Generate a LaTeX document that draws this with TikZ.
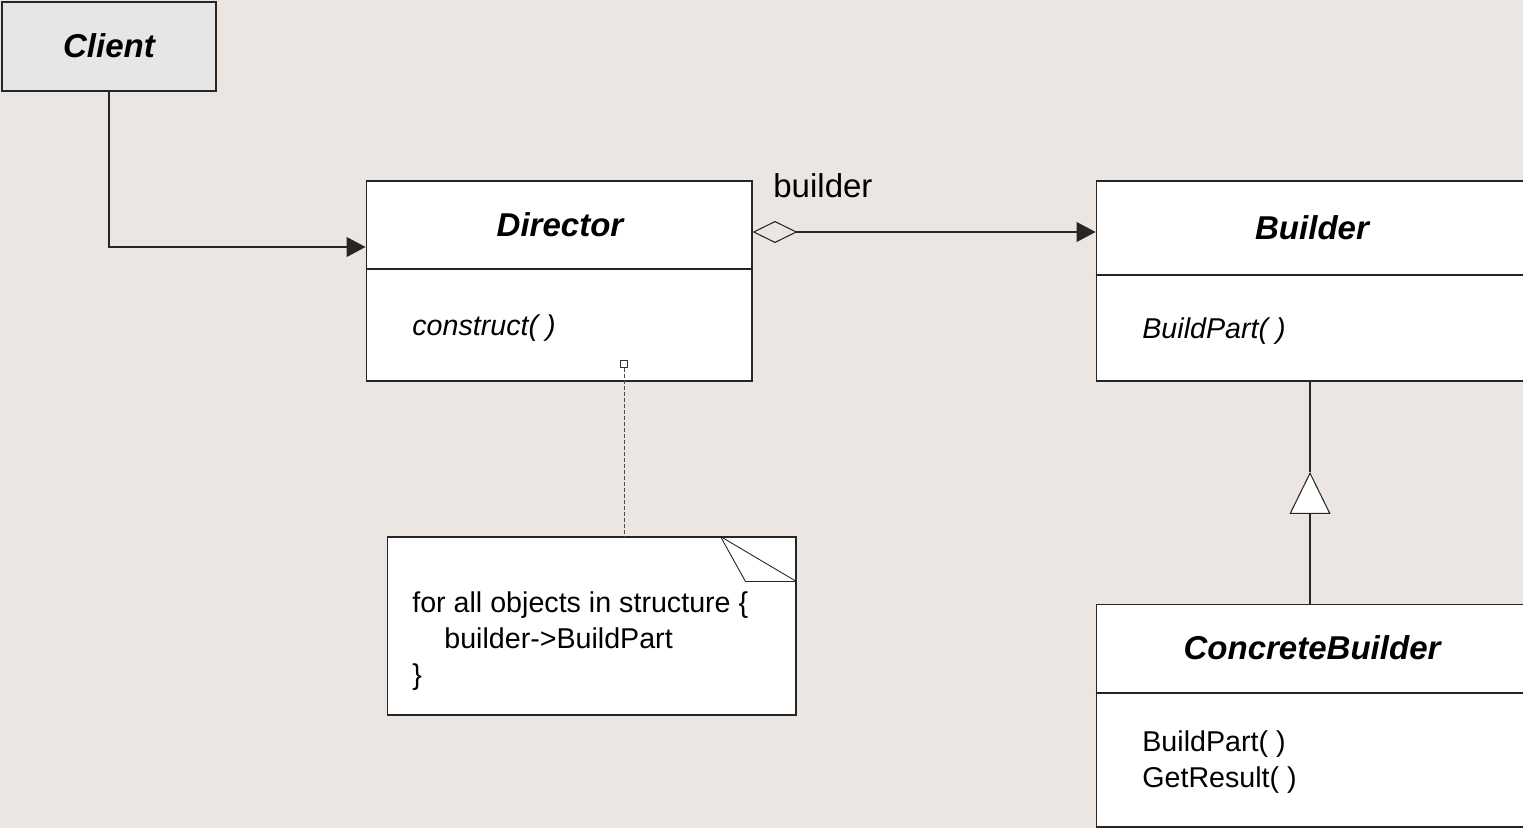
\documentclass[tikz,border=0pt]{standalone}
\usepackage{fontspec}
\setmainfont{Liberation Sans}
\usetikzlibrary{arrows.meta,calc,positioning}
\definecolor{canvas}{RGB}{235,230,226}
\definecolor{clientgray}{RGB}{230,230,230}
\def\bigtext{\fontsize{18.8}{22}\selectfont}
\def\smalltext{\fontsize{16.3}{20.3}\selectfont}
\tikzset{
	classbox/.style={draw=black!85, fill=white, line width=0.6pt, inner sep=0pt},
	classname/.style={font=\bigtext\bfseries\itshape, inner sep=0pt},
	member/.style={font=\smalltext, anchor=west, inner sep=0pt, align=left},
	link/.style={draw=black!85, line width=0.6pt},
	navigable/.style={link, -{Triangle[length=0.38cm,width=0.4cm]}},
	aggregation/.style={link, {Diamond[open,length=0.9cm,width=0.44cm]}-{Triangle[length=0.38cm,width=0.4cm]}},
	inherits/.style={link, -{Triangle[open,fill=white,length=0.84cm,width=0.82cm]}},
	anchorsq/.style={draw=black!80, fill=white, line width=0.5pt, minimum size=0.13cm, inner sep=0pt},
	notelink/.style={draw=black!70, line width=0.5pt, dash pattern=on 0.08cm off 0.04cm}
}

\begin{document}
\begin{tikzpicture}[x=0.02cm, y=-0.02cm]
		%%%%% START %%%%%
		
		\fill[canvas] (0, 0) rectangle (1523, 828);
		\useasboundingbox (0, 0) rectangle (1523, 828);
		\clip (0, 0) rectangle (1523, 828);
		
		% client
		\node[classbox, fill=clientgray, minimum width=4.28cm, minimum height=1.78cm] (client) at (109, 46.5) {};
		\node[classname] (clientname) at (109, 46) {Client};
		
		% director
		\node[classbox, minimum width=7.72cm, minimum height=4cm] (director) at (559, 281) {};
		\draw[link] (director.west |- 0, 269) -- (director.east |- 0, 269);
		\node[classname] (directorname) at (560, 225) {Director};
		\node[member, font=\smalltext\itshape] (construct) at (412, 328) {construct( )};
		\node[anchorsq] (sq) at (624, 364) {};
		
		% builder
		\node[classbox, minimum width=8.64cm, minimum height=4cm] (builder) at (1312, 281) {};
		\draw[link] (builder.west |- 0, 275) -- (builder.east |- 0, 275);
		\node[classname] (buildername) at (1312, 228) {Builder};
		\node[member, font=\smalltext\itshape] (buildpart) at (1142, 331) {BuildPart( )};
		
		% concrete builder
		\node[classbox, minimum width=8.64cm, minimum height=4.46cm] (concrete) at (1312, 715.5) {};
		\draw[link] (concrete.west |- 0, 693) -- (concrete.east |- 0, 693);
		\node[classname] (concretename) at (1312, 648) {ConcreteBuilder};
		\node[member] (concretemethods) at (1142, 762) {BuildPart( )\\GetResult( )};
		
		% note
		\node[classbox, minimum width=8.18cm, minimum height=3.56cm] (note) at (591.5, 626) {};
		\draw[link, line width=0.5pt] ($(note.north east)+(-76, 0)$) -- ($(note.north east)+(0, 45)$);
		\draw[link, line width=0.5pt] ($(note.north east)+(-76, 0)$) -- ($(note.north east)+(-51, 45)$) -- ($(note.north east)+(0, 45)$);
		\node[member] (notetext) at (412, 641) {for all objects in structure \{\\\hspace*{0.64cm}builder->BuildPart\\\}};
		
		% connectors
		\draw[navigable] (client.south) |- (director.west |- 0, 247);
		\draw[aggregation] (director.east |- 0, 232) -- (builder.west |- 0, 232);
		\node[anchor=south west, inner sep=0pt, font=\bigtext] (role) at (773, 198) {builder};
		\coordinate (gentip) at (1310, 472);
		\draw[inherits] (gentip |- concrete.north) -- (gentip);
		\draw[link] (gentip) -- (gentip |- builder.south);
		\draw[notelink] (sq.south) -- (sq |- note.north);
		
		%%%%% END %%%%%
	\end{tikzpicture}
\end{document}
